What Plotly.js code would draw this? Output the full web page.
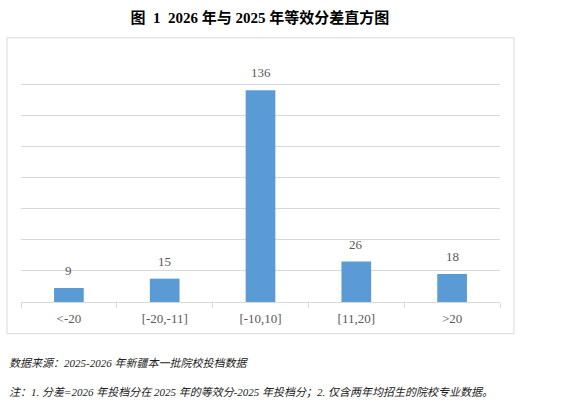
<!DOCTYPE html>
<html>
<head>
<meta charset="utf-8">
<script src="https://cdn.plot.ly/plotly-3.0.1.min.js"></script>
<style>html,body{margin:0;padding:0;background:#fff;}#chart{width:571px;height:411px;}</style>
</head>
<body>
<div id="chart"></div>
<script>
const categories = ["<-20", "[-20,-11]", "[-10,10]", "[11,20]", ">20"];
const counts = [9, 15, 136, 26, 18];
const titleText = "图\u20021\u20022026 年与 2025 年等效分差直方图";
const sourceNote = "数据来源：2025-2026 年新疆本一批院校投档数据";
const footNote = "注：1. 分差=2026 年投档分在 2025 年的等效分-2025 年投档分；2. 仅含两年均招生的院校专业数据。";

const serif = "'Liberation Serif', 'Times New Roman', 'Noto Sans CJK SC', serif";
const grey = "#595959";
const lineGrey = "#d9d9d9";

const W = 571, H = 411;
const L = 21, R = 500, T = 52.7, B = 302.3;
const px2x = p => (p - L) / (R - L);
const px2y = p => (B - p) / (B - T);

const trace = {
  type: "bar",
  x: categories,
  y: counts,
  marker: {color: "#5b9bd5"},
  width: 0.31,
  hoverinfo: "none"
};

const valueLabels = categories.map((c, i) => ({
  x: c, y: counts[i], xref: "x", yref: "y",
  text: String(counts[i]), showarrow: false,
  xanchor: "center", yanchor: "bottom", yshift: 8,
  font: {family: serif, size: 13, color: grey}
}));

const layout = {
  width: W, height: H,
  margin: {l: L, r: W - R, t: T, b: H - B},
  paper_bgcolor: "#fff", plot_bgcolor: "#fff",
  showlegend: false,
  font: {family: serif, color: grey},
  title: {
    text: "<b>" + titleText + "</b>",
    font: {family: serif, size: 15, color: "#000"},
    x: 260 / W, xanchor: "center", y: 1 - 18 / H, yanchor: "middle"
  },
  xaxis: {
    type: "category",
    showline: true, linecolor: lineGrey, linewidth: 1,
    ticks: "outside", tickson: "boundaries", ticklen: 5, tickcolor: lineGrey,
    showgrid: false,
    ticklabelstandoff: 4,
    tickfont: {family: serif, size: 13, color: grey},
    fixedrange: true
  },
  yaxis: {
    range: [0, 160], dtick: 20,
    showgrid: true, gridcolor: lineGrey, gridwidth: 1,
    showticklabels: false, zeroline: false, showline: false,
    fixedrange: true
  },
  shapes: [{
    type: "rect", xref: "paper", yref: "paper",
    x0: px2x(7), x1: px2x(514), y0: px2y(334), y1: px2y(37.5),
    line: {color: lineGrey, width: 1}, fillcolor: "rgba(0,0,0,0)", layer: "below"
  }],
  annotations: valueLabels.concat([
    {text: "<i>" + sourceNote + "</i>", xref: "paper", yref: "paper",
     x: px2x(7), y: px2y(363), xanchor: "left", yanchor: "middle", showarrow: false,
     font: {family: serif, size: 11, color: "#222"}},
    {text: "<i>" + footNote + "</i>", xref: "paper", yref: "paper",
     x: px2x(7), y: px2y(393), xanchor: "left", yanchor: "middle", showarrow: false,
     font: {family: serif, size: 11, color: "#222"}}
  ])
};

Plotly.newPlot("chart", [trace], layout, {displayModeBar: false, staticPlot: true});
</script>
</body>
</html>
